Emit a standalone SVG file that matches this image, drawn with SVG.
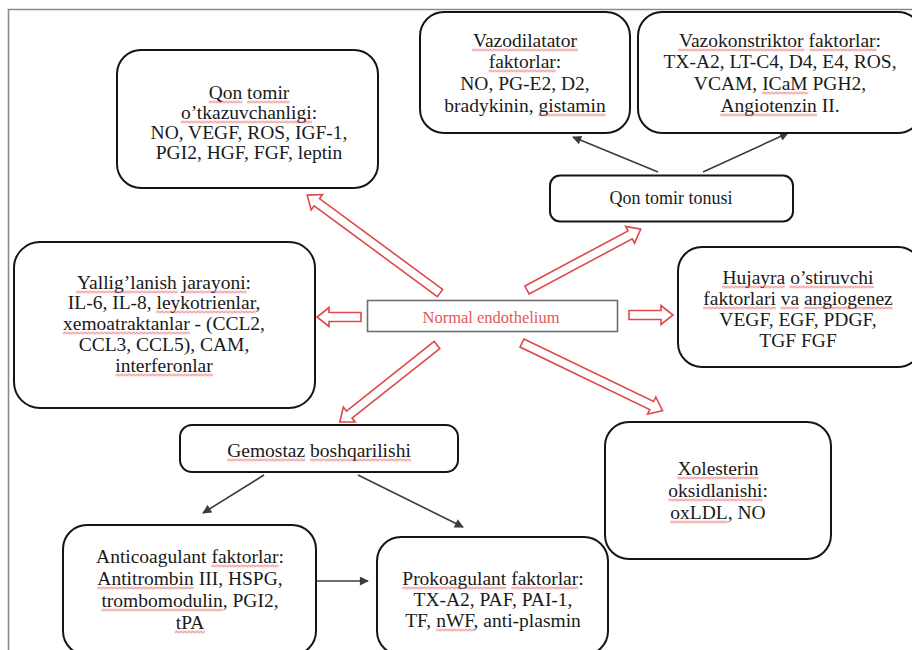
<svg xmlns="http://www.w3.org/2000/svg" width="912" height="650" viewBox="0 0 912 650">
<defs>
<style>
.box{fill:#fff;stroke:#151515;stroke-width:2}
.t{font-family:"Liberation Serif","Times New Roman",serif;font-size:19.5px;fill:#1a1a1a;text-anchor:middle}
.wv{fill:url(#wave)}
.blk{fill:#fff;stroke:#e04848;stroke-width:1.6;stroke-linejoin:miter}
.ln{stroke:#3c3c3c;stroke-width:1.6;fill:none;marker-end:url(#ah)}
.frame{stroke:#8a8a8a;stroke-width:1.6;fill:none}
</style>
<pattern id="wave" patternUnits="userSpaceOnUse" width="4" height="3">
<path d="M0,2.4 L2,0.6 L4,2.4" fill="none" stroke="#e03434" stroke-width="0.9"/>
</pattern>
<marker id="ah" viewBox="0 0 10 10" refX="9" refY="5" markerWidth="11" markerHeight="9" markerUnits="userSpaceOnUse" orient="auto">
<path d="M0,0 L10,5 L0,10 z" fill="#3c3c3c"/>
</marker>
</defs>
<rect width="912" height="650" fill="#fff"/>
<path class="frame" d="M8.5,650 V9.5 H912"/>

<g id="connectors">
<polygon class="blk" points="0,-4.5 153,-4.5 153,-9.5 165,0 153,9.5 153,4.5 0,4.5" transform="translate(440,293) rotate(-143.6)"/>
<polygon class="blk" points="0,-4.5 117,-4.5 117,-9.5 129,0 117,9.5 117,4.5 0,4.5" transform="translate(527,290) rotate(-28.15)"/>
<polygon class="blk" points="0,-4.5 32,-4.5 32,-9.5 44,0 32,9.5 32,4.5 0,4.5" transform="translate(361,317) rotate(180)"/>
<polygon class="blk" points="0,-4.5 32,-4.5 32,-9.5 44,0 32,9.5 32,4.5 0,4.5" transform="translate(629,315)"/>
<polygon class="blk" points="0,-4.5 112,-4.5 112,-9.5 124,0 112,9.5 112,4.5 0,4.5" transform="translate(437,345) rotate(141.6)"/>
<polygon class="blk" points="0,-4.5 144,-4.5 144,-9.5 156,0 144,9.5 144,4.5 0,4.5" transform="translate(522,343) rotate(25.75)"/>
<line class="ln" x1="658" y1="172" x2="573" y2="137"/>
<line class="ln" x1="703" y1="172" x2="788" y2="133"/>
<line class="ln" x1="264" y1="475" x2="203" y2="513"/>
<line class="ln" x1="358" y1="475" x2="463" y2="527"/>
<line class="ln" x1="316" y1="581" x2="368" y2="581"/>
</g>

<g id="normal-endothelium">
<rect x="367.5" y="300.5" width="250" height="31" fill="#fff" stroke="#6e6e6e" stroke-width="1.6"/>
<text x="491" y="323" font-family="'Liberation Serif','Times New Roman',serif" font-size="16.5" fill="#e05858" text-anchor="middle">Normal endothelium</text>
</g>

<g id="vazodilatator">
<rect class="box" x="420" y="12" width="210" height="121" rx="24"/>
<text class="t" x="525" y="47"><tspan>Vazodilatator</tspan></text>
<text class="t" x="525" y="68"><tspan>faktorlar</tspan>:</text>
<text class="t" x="525" y="90">NO, PG-E2, D2,</text>
<text class="t" x="525" y="112">bradykinin, <tspan>gistamin</tspan></text>
<rect class="wv" transform="translate(472,48.5)" width="106" height="3"/>
<rect class="wv" transform="translate(488.7,69.5)" width="67.1" height="3"/>
<rect class="wv" transform="translate(538.5,113.5)" width="67.2" height="3"/>
</g>

<g id="vazokonstriktor">
<rect class="box" x="638" y="12" width="284" height="121" rx="24"/>
<text class="t" x="780" y="47"><tspan>Vazokonstriktor</tspan> <tspan>faktorlar</tspan>:</text>
<text class="t" x="780" y="68">TX-A2, LT-C4, D4, E4, ROS,</text>
<text class="t" x="780" y="90">VCAM, <tspan>ICaM</tspan> PGH2,</text>
<text class="t" x="780" y="112"><tspan>Angiotenzin</tspan> II.</text>
<rect class="wv" transform="translate(677.9,48.5)" width="126.7" height="3"/>
<rect class="wv" transform="translate(809.5,48.5)" width="67.1" height="3"/>
<rect class="wv" transform="translate(762.1,91.5)" width="45.5" height="3"/>
<rect class="wv" transform="translate(720.4,113.5)" width="96.4" height="3"/>
</g>

<g id="qon-tomir-tonusi">
<rect class="box" x="550" y="175.5" width="243" height="46" rx="10"/>
<text class="t" x="671" y="204" style="font-size:18px">Qon tomir tonusi</text>
</g>

<g id="otkazuvchanlik">
<rect class="box" x="117" y="50" width="261" height="138" rx="24"/>
<text class="t" x="249" y="99"><tspan>Qon</tspan> <tspan>tomir</tspan></text>
<text class="t" x="249" y="119"><tspan>o’tkazuvchanligi</tspan>:</text>
<text class="t" x="249" y="139">NO, VEGF, ROS, IGF-1,</text>
<text class="t" x="249" y="159">PGI2, HGF, FGF, leptin</text>
<rect class="wv" transform="translate(208.6,100.5)" width="33.6" height="3"/>
<rect class="wv" transform="translate(247.1,100.5)" width="42.3" height="3"/>
<rect class="wv" transform="translate(180.8,120.5)" width="131.1" height="3"/>
</g>

<g id="yalliglanish">
<rect class="box" x="14" y="242" width="301" height="166" rx="26"/>
<text class="t" x="164" y="289"><tspan>Yallig’lanish</tspan> <tspan>jarayoni</tspan>:</text>
<text class="t" x="164" y="309">IL-6, IL-8, <tspan>leykotrienlar</tspan>,</text>
<text class="t" x="164" y="330"><tspan>xemoatraktanlar</tspan> - (CCL2,</text>
<text class="t" x="164" y="351">CCL3, CCL5), CAM,</text>
<text class="t" x="164" y="372"><tspan>interferonlar</tspan></text>
<rect class="wv" transform="translate(76,290.5)" width="101.8" height="3"/>
<rect class="wv" transform="translate(182.7,290.5)" width="63.9" height="3"/>
<rect class="wv" transform="translate(156.1,310.5)" width="99.6" height="3"/>
<rect class="wv" transform="translate(63,331.5)" width="126.7" height="3"/>
<rect class="wv" transform="translate(115.3,373.5)" width="97.5" height="3"/>
</g>

<g id="hujayra">
<rect class="box" x="678" y="247" width="244" height="120" rx="24"/>
<text class="t" x="798" y="284"><tspan>Hujayra</tspan> <tspan>o’stiruvchi</tspan></text>
<text class="t" x="798" y="305"><tspan>faktorlari</tspan> <tspan>va</tspan> <tspan>angiogenez</tspan></text>
<text class="t" x="798" y="326">VEGF, EGF, PDGF,</text>
<text class="t" x="798" y="347">TGF FGF</text>
<rect class="wv" transform="translate(721.9,285.5)" width="62.8" height="3"/>
<rect class="wv" transform="translate(789.6,285.5)" width="84.5" height="3"/>
<rect class="wv" transform="translate(703.2,306.5)" width="72.6" height="3"/>
<rect class="wv" transform="translate(780.6,306.5)" width="18.4" height="3"/>
<rect class="wv" transform="translate(803.9,306.5)" width="88.8" height="3"/>
</g>

<g id="gemostaz">
<rect class="box" x="180" y="425" width="278" height="47" rx="12"/>
<text class="t" x="319" y="457"><tspan>Gemostaz</tspan> <tspan>boshqarilishi</tspan></text>
<rect class="wv" transform="translate(227.2,458.5)" width="78" height="3"/>
<rect class="wv" transform="translate(310.1,458.5)" width="100.8" height="3"/>
</g>

<g id="xolesterin">
<rect class="box" x="605" y="422" width="226" height="137" rx="24"/>
<text class="t" x="718" y="475"><tspan>Xolesterin</tspan></text>
<text class="t" x="718" y="497"><tspan>oksidlanishi</tspan>:</text>
<text class="t" x="718" y="519"><tspan>oxLDL</tspan>, NO</text>
<rect class="wv" transform="translate(677.4,476.5)" width="81.2" height="3"/>
<rect class="wv" transform="translate(668.2,498.5)" width="94.3" height="3"/>
<rect class="wv" transform="translate(670.3,520.5)" width="57.4" height="3"/>
</g>

<g id="anticoagulant">
<rect class="box" x="63" y="525" width="253" height="130" rx="24"/>
<text class="t" x="190" y="563">Anticoagulant <tspan>faktorlar</tspan>:</text>
<text class="t" x="190" y="585"><tspan>Antitrombin</tspan> III, HSPG,</text>
<text class="t" x="190" y="607"><tspan>trombomodulin</tspan>, PGI2,</text>
<text class="t" x="190" y="629"><tspan>tPA</tspan></text>
<rect class="wv" transform="translate(211.4,564.5)" width="67.1" height="3"/>
<rect class="wv" transform="translate(97.4,586.5)" width="96.4" height="3"/>
<rect class="wv" transform="translate(101.4,608.5)" width="121.3" height="3"/>
<rect class="wv" transform="translate(174.8,630.5)" width="30.3" height="3"/>
</g>

<g id="prokoagulant">
<rect class="box" x="377" y="537" width="231" height="118" rx="24"/>
<text class="t" x="493" y="585"><tspan>Prokoagulant</tspan> <tspan>faktorlar</tspan>:</text>
<text class="t" x="493" y="606">TX-A2, PAF, PAI-1,</text>
<text class="t" x="493" y="627">TF, <tspan>nWF</tspan>, anti-plasmin</text>
<rect class="wv" transform="translate(402.3,586.5)" width="104" height="3"/>
<rect class="wv" transform="translate(511.2,586.5)" width="67.1" height="3"/>
<rect class="wv" transform="translate(436.1,628.5)" width="39" height="3"/>
</g>
</svg>
